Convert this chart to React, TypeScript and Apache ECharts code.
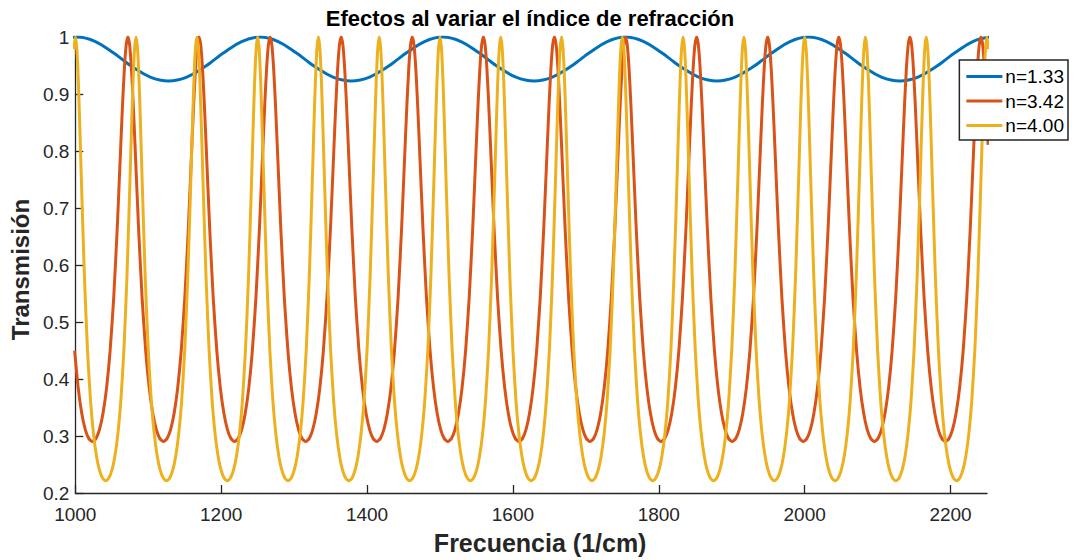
import React, { useEffect, useRef } from "react";
import * as echarts from "echarts";

// Series names
const seriesNames = ["n=1.33", "n=3.42", "n=4.00"];
const seriesColors = ["#0072BD", "#D95319", "#EDB120"];

// Peak positions (1/cm)
const peaksN133 = [1002.5, 1253.1, 1503.8, 1754.4, 2005.0, 2255.6];
const peaksN342 = [974.7, 1072.1, 1169.6, 1267.1, 1364.5, 1462.0, 1559.5, 1656.9, 1754.4, 1851.9, 1949.3, 2046.8, 2144.3, 2241.7];
const peaksN400 = [1000, 1083.3, 1166.7, 1250, 1333.3, 1416.7, 1500, 1583.3, 1666.7, 1750, 1833.3, 1916.7, 2000, 2083.3, 2166.7, 2250];

// Half-period shape around each peak: distance from the peak (1/cm) and transmission
const offsetsN133 = [0, 25.06, 50.13, 62.66, 75.19, 100.25, 125.32];
const valuesN133 = [1, 0.9921, 0.9719, 0.9599, 0.9482, 0.9297, 0.9229];

const offsetsN342 = [0, 2.44, 4.87, 7.31, 9.75, 14.62, 19.49, 24.37, 29.24, 34.11, 38.99, 43.86, 48.73];
const valuesN342 = [1, 0.9852, 0.9435, 0.8824, 0.8107, 0.6649, 0.542, 0.4499, 0.3845, 0.34, 0.3113, 0.2954, 0.2902];

const offsetsN400 = [0, 2.08, 4.17, 6.25, 8.33, 12.5, 16.67, 20.83, 25, 29.17, 33.33, 37.5, 41.67];
const valuesN400 = [1, 0.9788, 0.9208, 0.8392, 0.7486, 0.5798, 0.4515, 0.3626, 0.3029, 0.2638, 0.2392, 0.2257, 0.2214];

// Axis ticks
const xTicks = [1000, 1200, 1400, 1600, 1800, 2000, 2200];
const xMin = 1000;
const xMax = 2250;
const yMin = 0.2;
const yMax = 1;
const yStep = 0.1;

const titleText = "Efectos al variar el índice de refracción";
const xName = "Frecuencia (1/cm)";
const yName = "Transmisión";

function buildTable(peaks: number[], offsets: number[], values: number[]) {
  const all: [number, number][] = [];
  for (const p of peaks) {
    for (let i = offsets.length - 2; i >= 1; i--) all.push([p - offsets[i], values[i]]);
    all.push([p, values[0]]);
    for (let i = 1; i < offsets.length; i++) all.push([p + offsets[i], values[i]]);
  }
  // keep the points inside the axis range plus one neighbour on each side
  const out: [number, number][] = [];
  for (let k = 0; k < all.length; k++) {
    const x = all[k][0];
    const prev = k > 0 ? all[k - 1][0] : -Infinity;
    const next = k < all.length - 1 ? all[k + 1][0] : Infinity;
    if ((x >= xMin && x <= xMax) || (x < xMin && next >= xMin) || (x > xMax && prev <= xMax)) out.push(all[k]);
  }
  return out;
}

const FONT = "'Liberation Sans', Arial, Helvetica, sans-serif";
const TXT = "#262626";

export default function App() {
  const ref = useRef<HTMLDivElement>(null);
  useEffect(() => {
    if (!ref.current) return;
    const chart = echarts.init(ref.current, undefined, { renderer: "svg" });
    const tables = [
      buildTable(peaksN133, offsetsN133, valuesN133),
      buildTable(peaksN342, offsetsN342, valuesN342),
      buildTable(peaksN400, offsetsN400, valuesN400),
    ];
    chart.setOption({
      animation: false,
      backgroundColor: "#ffffff",
      textStyle: { fontFamily: FONT },
      grid: { left: 73, right: 88, top: 37, bottom: 63, containLabel: false },
      graphic: [
        {
          type: "text",
          x: 530,
          y: 18,
          style: {
            text: titleText,
            fill: "#000000",
            font: `bold 22px ${FONT}`,
            textAlign: "center",
            textVerticalAlign: "middle",
          },
        },
      ],
      legend: {
        orient: "vertical",
        right: 7,
        top: 60,
        padding: [7, 4, 5, 7],
        itemGap: 5.5,
        itemWidth: 36,
        itemHeight: 3,
        icon: "rect",
        borderColor: TXT,
        borderWidth: 1.5,
        borderRadius: 0,
        backgroundColor: "#ffffff",
        textStyle: { fontFamily: FONT, fontSize: 19, color: "#000000", padding: [0, 0, 0, -2], lineHeight: 19 },
        data: seriesNames,
      },
      xAxis: {
        type: "value",
        min: xMin,
        max: xMax,
        name: xName,
        nameLocation: "middle",
        nameGap: 37,
        nameTextStyle: { fontFamily: FONT, fontWeight: "bold", fontSize: 25, color: TXT, padding: [0, 0, 0, 18] },
        axisLine: { show: true, onZero: false, lineStyle: { color: TXT, width: 1.3 } },
        axisTick: { show: true, inside: true, length: 8, customValues: xTicks, lineStyle: { color: TXT, width: 1.3 } },
        axisLabel: {
          customValues: xTicks,
          fontFamily: FONT,
          fontSize: 19,
          color: TXT,
          margin: 12,
          formatter: (v: number) => String(v),
        },
        splitLine: { show: false },
      },
      yAxis: {
        type: "value",
        min: yMin,
        max: yMax,
        interval: yStep,
        name: yName,
        nameLocation: "middle",
        nameGap: 38,
        nameTextStyle: { fontFamily: FONT, fontWeight: "bold", fontSize: 24, color: TXT, padding: [0, 9, 0, 0] },
        axisLine: { show: true, onZero: false, lineStyle: { color: TXT, width: 1.3 } },
        axisTick: { show: true, inside: true, length: 8, lineStyle: { color: TXT, width: 1.3 } },
        axisLabel: { fontFamily: FONT, fontSize: 19, color: TXT, margin: 6 },
        splitLine: { show: false },
      },
      series: seriesNames.map((name, i) => ({
        name,
        type: "line",
        data: tables[i],
        showSymbol: false,
        symbol: "none",
        smooth: i === 0 ? 0.4 : 0.2,
        clip: true,
        lineStyle: { color: seriesColors[i], width: 3 },
        itemStyle: { color: seriesColors[i] },
      })),
    });
    return () => chart.dispose();
  }, []);
  return (
    <div
      ref={ref}
      style={{ position: "absolute", left: 0, top: 0, width: 1075, height: 560 }}
    />
  );
}
